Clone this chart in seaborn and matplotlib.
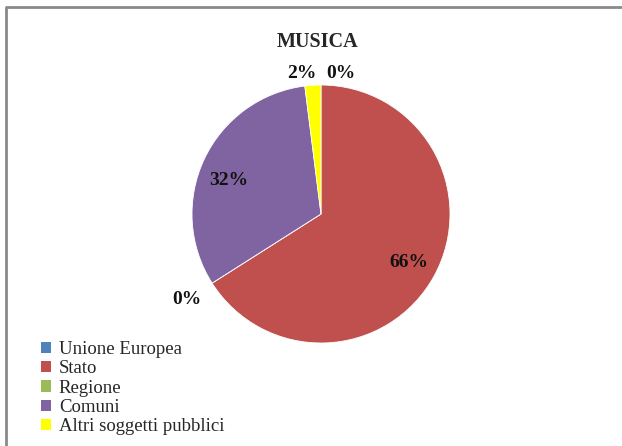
import numpy as np
import matplotlib
matplotlib.use("Agg")
import matplotlib.pyplot as plt
from matplotlib.patches import Patch
from matplotlib.lines import Line2D
import seaborn as sns

# Funding sources for music (percent shares)
categories = ["Unione Europea", "Stato", "Regione", "Comuni", "Altri soggetti pubblici"]
shares = [0, 66, 0, 32, 2]
title = "MUSICA"

colors = ["#4F81BD", "#C0504D", "#9BBB59", "#8064A2", "#FFFF00"]

sns.set_style("white")
plt.rcParams["font.family"] = ["Liberation Serif", "DejaVu Serif"]

fig = plt.figure(figsize=(6.22, 4.46), dpi=100)
fig.patch.set_facecolor("white")

# chart-area frame (left and top edges visible)
fig.add_artist(Line2D([0.009, 0.009, 1.0], [0.0, 0.984, 0.984], transform=fig.transFigure,
                      color="#8a8a8a", lw=2.0))

# pie axes: centre ~ (321, 214) px, radius ~129 px
R_px = 129
cx, cy = 321, 446 - 214
ax = fig.add_axes([(cx - R_px) / 622, (cy - R_px) / 446, 2 * R_px / 622, 2 * R_px / 446])
wedges, _ = ax.pie(shares, colors=colors, startangle=90, counterclock=False,
                   wedgeprops=dict(linewidth=0.6, edgecolor="white"))
ax.set_xlim(-1, 1)
ax.set_ylim(-1, 1)
ax.set_aspect("auto")
ax.axis("off")

# label placement per wedge: radial distance and small angular nudge (degrees)
label_dist = [1.10, 0.78, 1.23, 0.76, 1.10]
label_nudge = [-8, 0, 0, 5, 4]
for w, val, d, nd in zip(wedges, shares, label_dist, label_nudge):
    ang = np.deg2rad((w.theta1 + w.theta2) / 2 + nd)
    ax.text(d * np.cos(ang), d * np.sin(ang), f"{val}%", ha="center", va="center",
            fontsize=14, fontweight="bold", color="#111111", clip_on=False)

fig.text(0.51, 0.905, title, ha="center", va="center", fontsize=14.5, fontweight="bold")

handles = [Patch(facecolor=c, edgecolor="none") for c in colors]
fig.legend(handles, categories, loc="lower left", bbox_to_anchor=(0.045, -0.005),
           frameon=False, fontsize=13.5, handlelength=0.55, handleheight=0.55,
           handletextpad=0.4, labelspacing=0.12, borderaxespad=0.3)

fig.savefig("out.png", dpi=100)
